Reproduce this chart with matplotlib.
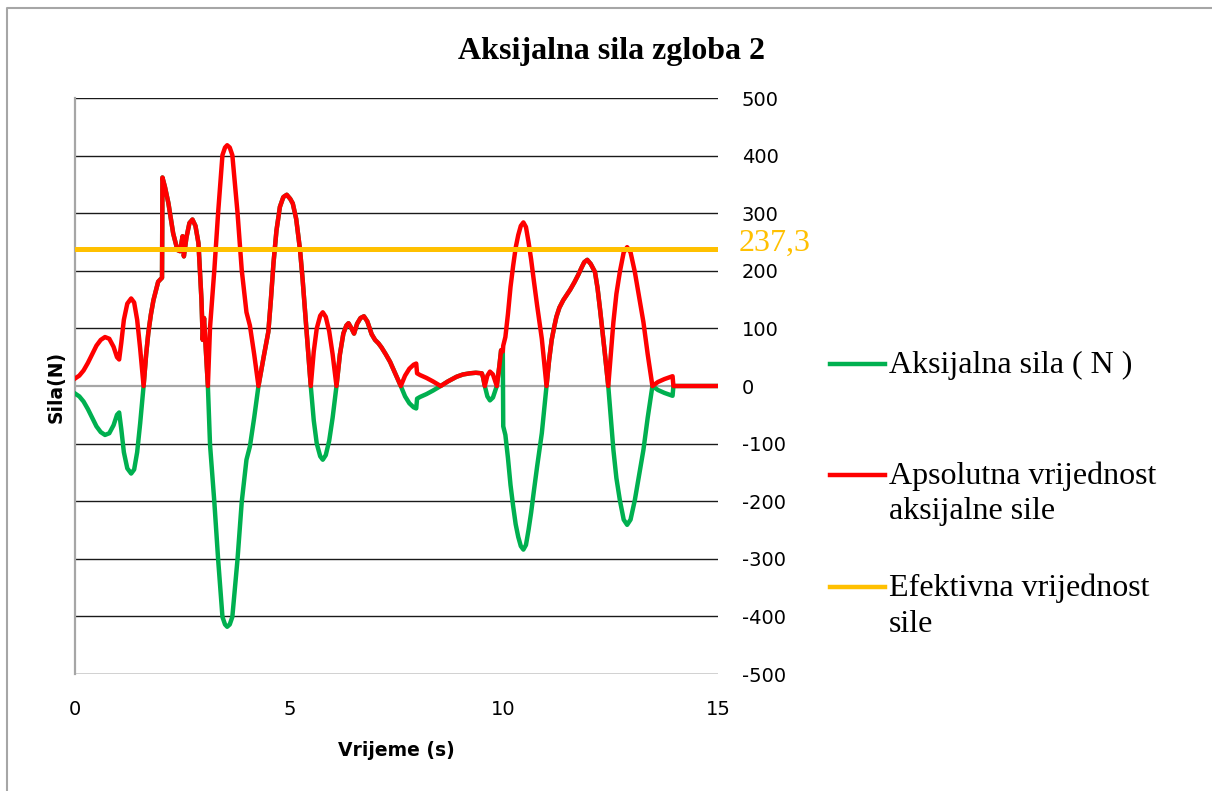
import numpy as np
import matplotlib
matplotlib.use("Agg")
import matplotlib.pyplot as plt
from matplotlib.lines import Line2D

# time axis (s) and signed axial force of joint 2 (N)
vrijeme = [0.00, 0.10, 0.20, 0.30, 0.40, 0.50, 0.60, 0.70, 0.80, 0.90, 0.98, 1.03,
           1.08, 1.14, 1.22, 1.31, 1.38, 1.45, 1.52, 1.60, 1.66, 1.71, 1.77, 1.83,
           1.94, 2.03, 2.04, 2.10, 2.18, 2.29, 2.39, 2.45, 2.51, 2.54, 2.60, 2.67,
           2.74, 2.81, 2.88, 2.95, 2.98, 3.01, 3.05, 3.10, 3.15, 3.25, 3.34, 3.44,
           3.50, 3.55, 3.61, 3.67, 3.79, 3.89, 4.00, 4.08, 4.18, 4.28, 4.40, 4.51,
           4.57, 4.63, 4.70, 4.78, 4.86, 4.94, 5.02, 5.08, 5.16, 5.25, 5.31, 5.37,
           5.44, 5.50, 5.57, 5.64, 5.72, 5.78, 5.85, 5.93, 6.01, 6.10, 6.18, 6.26,
           6.33, 6.38, 6.45, 6.51, 6.58, 6.66, 6.74, 6.82, 6.92, 7.00, 7.08, 7.15,
           7.25, 7.35, 7.48, 7.60, 7.70, 7.80, 7.90, 7.96, 7.98, 8.05, 8.20, 8.35,
           8.53, 8.70, 8.90, 9.05, 9.21, 9.35, 9.49, 9.52, 9.56, 9.62, 9.68, 9.75,
           9.84, 9.90, 9.94, 9.98, 9.99, 10.04, 10.10, 10.16, 10.22, 10.28, 10.34, 10.40,
           10.46, 10.52, 10.58, 10.64, 10.70, 10.78, 10.89, 11.00, 11.06, 11.12, 11.18, 11.23,
           11.30, 11.39, 11.47, 11.55, 11.65, 11.74, 11.82, 11.88, 11.95, 12.03, 12.13, 12.19,
           12.25, 12.36, 12.44, 12.50, 12.56, 12.63, 12.71, 12.80, 12.88, 12.96, 13.06, 13.16,
           13.26, 13.36, 13.47, 13.60, 13.75, 13.94, 13.96, 15.00]
sila = [-13, -18, -27, -40, -55, -70, -80, -85, -82, -68, -50, -46,
        -75, -115, -143, -152, -145, -115, -65, 0, 55, 92, 124, 149,
        181, 188, 362, 345, 317, 265, 236, 234, 260, 225, 258, 283,
        289, 278, 248, 150, 80, 118, 65, 0, -102, -201, -302, -401,
        -414, -418, -414, -401, -302, -201, -128, -105, -55, 0, 50, 94,
        150, 213, 270, 311, 328, 332, 325, 317, 290, 236, 185, 126,
        55, 0, -60, -100, -122, -128, -120, -95, -55, 0, 55, 91,
        105, 109, 100, 91, 108, 118, 121, 112, 90, 80, 74, 67,
        55, 42, 20, 0, -18, -30, -37, -39, -22, -19, -14, -8,
        0, 8, 16, 20, 22, 23, 22, 15, 0, -18, -25, -20,
        0, 35, 62, 60, -70, -85, -125, -172, -208, -240, -262, -278,
        -284, -276, -250, -220, -185, -140, -82, 0, 45, 80, 103, 120,
        136, 149, 158, 167, 180, 193, 206, 215, 219, 212, 198, 170,
        132, 57, 0, -55, -111, -160, -198, -232, -241, -232, -198, -155,
        -111, -55, 0, -7, -12, -17, 0, 0]
efektivna = 237.3

t = np.array(vrijeme)
F = np.array(sila)
F_abs = np.abs(F)

W, H = 1212, 791
def fx(px):
    return px / W
def fy(py):
    return 1 - py / H

plt.rcParams['axes.unicode_minus'] = False
SERIF = 'Liberation Serif'
SANS = 'DejaVu Sans'
C_GREEN = '#00B050'
C_RED = '#FF0000'
C_ORANGE = '#FFC000'
C_GREY = '#A6A6A6'

fig = plt.figure(figsize=(W / 100, H / 100), dpi=100)
ax = fig.add_axes([fx(75), fy(674), (718 - 75) / W, (674 - 98) / H])

yt = list(range(-500, 501, 100))
ax.hlines([v for v in yt if v != 0], 0, 15, color='#1a1a1a', lw=1.0, zorder=1)
ax.axhline(0, color=C_GREY, lw=1.6, zorder=1)

ax.plot(t, F, color=C_GREEN, lw=3.2, zorder=3, solid_joinstyle='round')
ax.plot(t, F_abs, color=C_RED, lw=3.2, zorder=4, solid_joinstyle='round')
ax.axhline(efektivna, color=C_ORANGE, lw=3.6, zorder=5)

ax.set_xlim(0, 15)
ax.set_ylim(-500, 500)
ax.set_xticks([0, 5, 10, 15])
ax.set_yticks(yt)
ax.yaxis.tick_right()
ax.tick_params(axis='y', length=0, pad=17, labelsize=14)
ax.tick_params(axis='x', length=0, pad=19, labelsize=14)
for lab in ax.get_xticklabels() + ax.get_yticklabels():
    lab.set_fontfamily(SANS)

for s in ['top', 'right', 'bottom']:
    ax.spines[s].set_visible(False)
ax.spines['left'].set_color(C_GREY)
ax.spines['left'].set_linewidth(1.6)

ax.annotate(f"{efektivna:.1f}".replace('.', ','), xy=(15, efektivna),
            xytext=(15, 4), textcoords='offset points', ha='left', va='center',
            color=C_ORANGE, fontsize=23, family=SERIF, annotation_clip=False)

fig.text(fx(612), fy(51), 'Aksijalna sila zgloba 2', ha='center', va='center',
         fontsize=23, fontweight='bold', family=SERIF)
fig.text(fx(56), fy(387), 'Sila(N)', rotation=90, ha='center', va='center',
         fontsize=13.5, fontweight='bold', family=SANS)
fig.text(fx(396.5), fy(751), 'Vrijeme (s)', ha='center', va='center',
         fontsize=13.5, fontweight='bold', family=SANS)

# legend drawn by hand so the key sits next to the first text line
legend = [(C_GREEN, ['Aksijalna sila ( N )'], 364),
          (C_RED, ['Apsolutna vrijednost', 'aksijalne sile'], 475),
          (C_ORANGE, ['Efektivna vrijednost', 'sile'], 587)]
for color, lines, y0 in legend:
    fig.add_artist(Line2D([fx(830), fx(885)], [fy(y0), fy(y0)], color=color, lw=3.2,
                          transform=fig.transFigure))
    for i, txt in enumerate(lines):
        fig.text(fx(889), fy(y0 + 1 + i * 36), txt, ha='left', va='center',
                 fontsize=23, family=SERIF)

# chart frame
fig.add_artist(Line2D([fx(7), fx(7), 1.0], [0.0, fy(8), fy(8)], color=C_GREY, lw=1.5,
                      transform=fig.transFigure))

fig.savefig('out.png', dpi=100)
plt.close()
